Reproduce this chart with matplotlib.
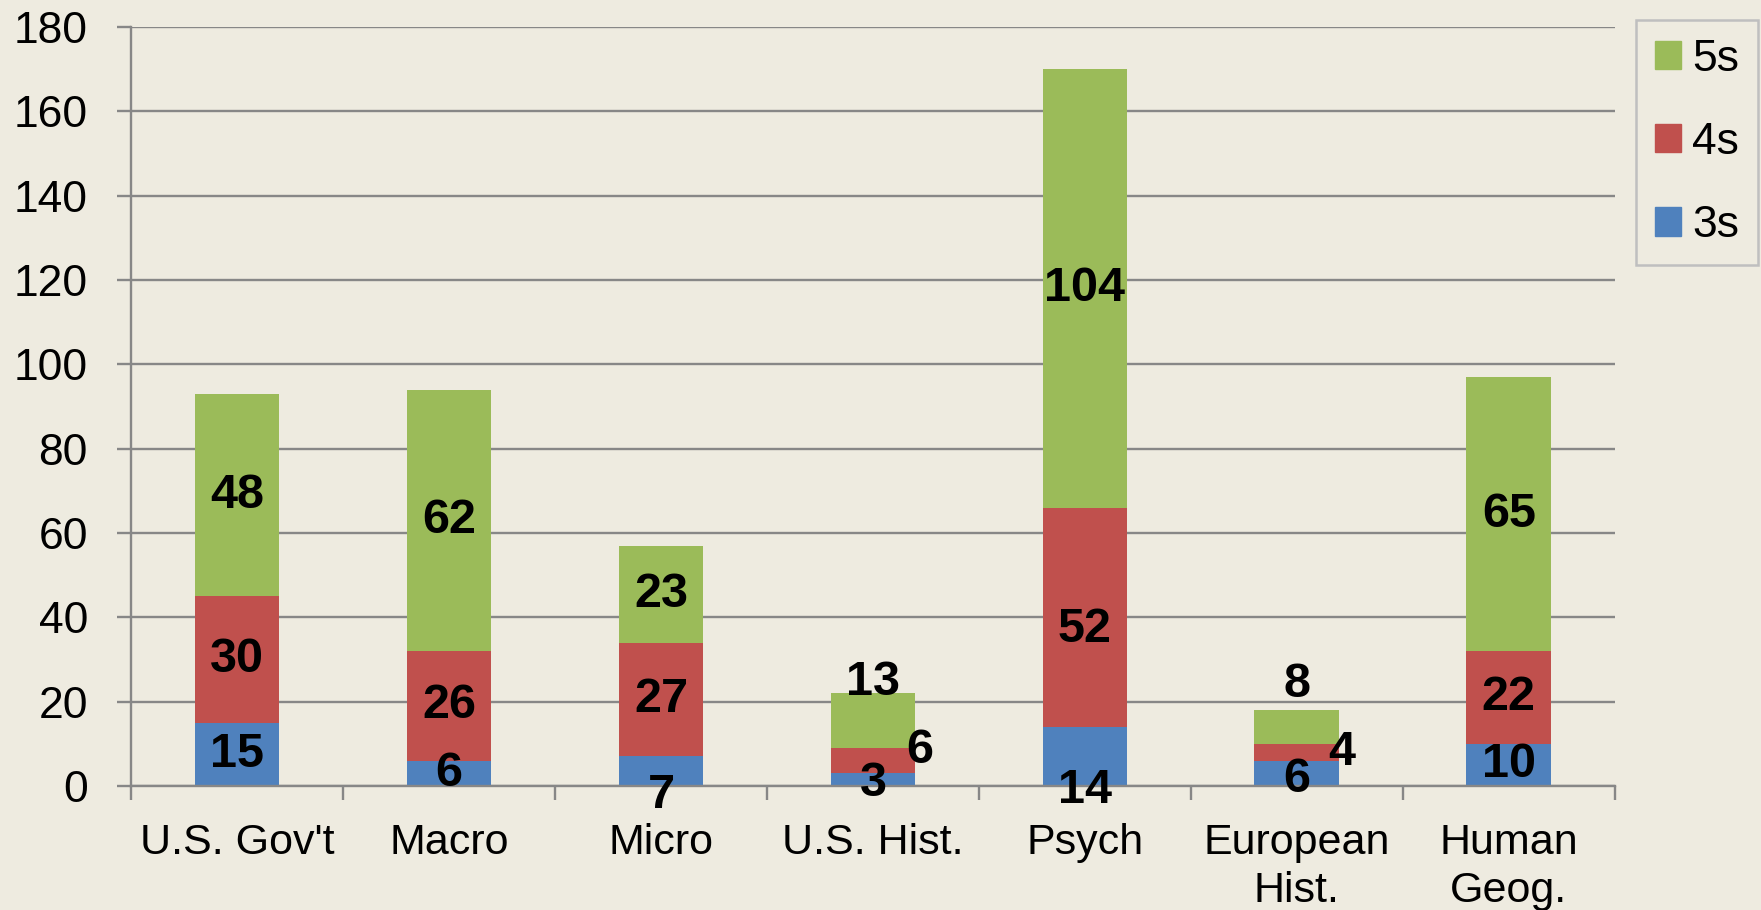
import numpy as np
import matplotlib.pyplot as plt
from matplotlib.patches import Patch

subjects = ["U.S. Gov't", "Macro", "Micro", "U.S. Hist.", "Psych", "European\nHist.", "Human\nGeog."]
threes = [15, 6, 7, 3, 14, 6, 10]
fours = [30, 26, 27, 6, 52, 4, 22]
fives = [48, 62, 23, 13, 104, 8, 65]

bg = '#EEEBE0'
blue = '#4F81BD'
red = '#C0504D'
green = '#9BBB59'
grid = '#878787'

# label nudges where the segment is too small for its number: (series, bar) -> (dx, y)
nudges = {
    (0, 2): (0, -2.2),
    (0, 3): (0, 0.5),
    (1, 3): (0.22, 8.5),
    (2, 3): (0, 24.5),
    (0, 4): (0, -1),
    (1, 4): (0, 37),
    (0, 5): (0, 1.6),
    (1, 5): (0.21, 8),
    (2, 5): (0, 24),
}

plt.rcParams['font.family'] = ['Liberation Sans', 'DejaVu Sans']

fig = plt.figure(figsize=(17.61, 9.10), dpi=100, facecolor=bg)
ax = fig.add_axes([0.0744, 0.1363, 0.917 - 0.0744, 0.9703 - 0.1363])
ax.set_facecolor(bg)

x = np.arange(len(subjects))
series = [threes, fours, fives]
colors = [blue, red, green]
bottom = np.zeros(len(subjects))
for s, (vals, c) in enumerate(zip(series, colors)):
    vals = np.array(vals)
    ax.bar(x, vals, 0.4, bottom=bottom, color=c, zorder=3)
    for i, v in enumerate(vals):
        dx, y = nudges.get((s, i), (0, bottom[i] + v / 2))
        ax.text(x[i] + dx, y, str(v), ha='center', va='center',
                fontsize=35, fontweight='bold', color='black', zorder=5)
    bottom = bottom + vals

ax.set_xlim(-0.5, len(subjects) - 0.5)
ax.set_ylim(0, 180)
ax.set_yticks(np.arange(0, 181, 20))
ax.yaxis.grid(True, color=grid, linewidth=1.7, zorder=0)
ax.tick_params(axis='y', labelsize=32, length=10, width=1.7, color=grid, pad=21)

ax.set_xticks(x)
ax.set_xticklabels(subjects, fontsize=31, linespacing=1.25)
ax.set_xticks(np.arange(len(subjects) + 1) - 0.5, minor=True)
ax.tick_params(axis='x', which='major', length=0, pad=27)
ax.tick_params(axis='x', which='minor', length=10, width=1.7, color=grid)

for side in ['top', 'right']:
    ax.spines[side].set_visible(False)
for side in ['left', 'bottom']:
    ax.spines[side].set_color(grid)
    ax.spines[side].set_linewidth(1.7)
    ax.spines[side].set_zorder(4)

handles = [Patch(color=green, label='5s'), Patch(color=red, label='4s'), Patch(color=blue, label='3s')]
leg = fig.legend(handles=handles, loc='upper left', bbox_to_anchor=(0.929, 0.978),
                 fontsize=32, frameon=True, fancybox=False, edgecolor='#BFBFBF',
                 facecolor=bg, framealpha=1, handlelength=0.6, handleheight=0.6,
                 handletextpad=0.25, labelspacing=0.95, borderpad=0.42, borderaxespad=0)
leg.get_frame().set_linewidth(1.8)

fig.savefig('out.png', dpi=100, facecolor=bg)
